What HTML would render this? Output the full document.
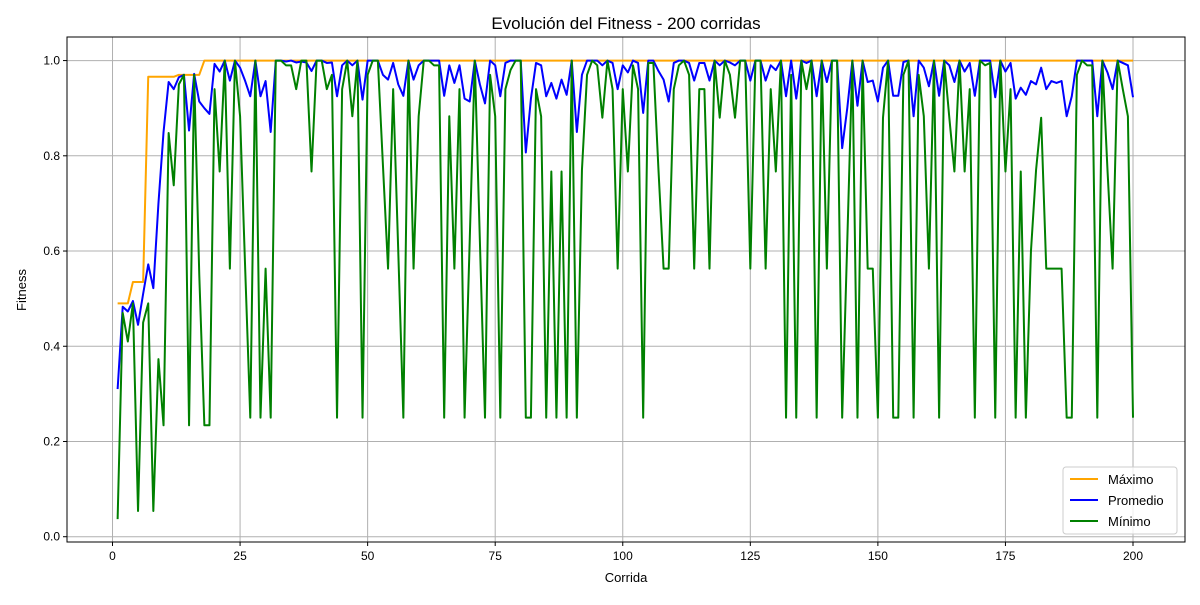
<!DOCTYPE html>
<html><head><meta charset="utf-8"><style>
html,body{margin:0;padding:0;background:#fff;}
svg text{font-family:"Liberation Sans","DejaVu Sans",sans-serif;fill:#000;}
</style></head><body>
<svg id="chart" width="1200" height="600" viewBox="0 0 1200 600" xmlns="http://www.w3.org/2000/svg">
<rect x="0" y="0" width="1200" height="600" fill="#fff"/>
<text x="626" y="29" font-size="17" text-anchor="middle">Evolución del Fitness - 200 corridas</text>
<text x="626" y="582" font-size="13" text-anchor="middle">Corrida</text>
<text x="26" y="290" font-size="13" text-anchor="middle" transform="rotate(-90 26 290)">Fitness</text>
<g id="grid"></g>
<g id="ticks"></g>
<g id="series"></g>
<rect x="67" y="37" width="1118" height="505" fill="none" stroke="#000" stroke-width="1"/>
<g>
<rect x="1063" y="467" width="114" height="67" rx="3" fill="#fff" fill-opacity="0.8" stroke="#ccc"/>
<g><line x1="1070" y1="479" x2="1098" y2="479" stroke="orange" stroke-width="2"/><text x="1108" y="484" font-size="13">Máximo</text></g>
<g><line x1="1070" y1="500" x2="1098" y2="500" stroke="blue" stroke-width="2"/><text x="1108" y="505" font-size="13">Promedio</text></g>
<g><line x1="1070" y1="521" x2="1098" y2="521" stroke="green" stroke-width="2"/><text x="1108" y="526" font-size="13">Mínimo</text></g>
</g>
</svg>
<script>
const maxHead = [0.49,0.49,0.49,0.535,0.535,0.535,0.966,0.966,0.966,0.966,0.966,0.966,0.97,0.97,0.97,0.97,0.97];
const maxTailValue = 1.0;
const avgValues = [
0.31,0.483,0.473,0.495,0.445,0.51,0.572,0.522,0.70,0.85,0.955,0.94,0.965,0.97,0.853,0.972,0.914,0.90,0.888,0.993,
0.977,1.0,0.958,1.0,0.985,0.957,0.925,1.0,0.925,0.957,0.85,1.0,1.0,0.998,1.0,0.996,0.998,0.996,0.978,1.0,
1.0,0.995,0.996,0.925,0.99,1.0,0.99,1.0,0.918,1.0,
1.0,1.0,0.97,0.96,0.995,0.95,0.926,1.0,0.96,0.99,1.0,1.0,1.0,1.0,0.926,0.99,0.953,0.99,0.92,0.914,
1.0,0.95,0.91,1.0,0.99,0.925,0.995,1.0,1.0,1.0,0.807,0.92,0.995,0.99,0.925,0.953,0.92,0.96,0.928,1.0,
0.85,0.97,1.0,1.0,1.0,0.99,1.0,0.995,0.94,0.99,
0.975,1.0,0.995,0.89,1.0,1.0,0.978,0.96,0.914,0.995,1.0,1.0,0.995,0.958,0.995,0.995,0.958,1.0,0.99,1.0,
0.996,0.99,1.0,1.0,0.958,1.0,1.0,0.958,0.99,0.98,1.0,0.925,1.0,0.92,1.0,0.995,1.0,0.925,1.0,0.955,
1.0,1.0,0.816,0.9,1.0,0.905,1.0,0.955,0.958,0.914,
0.985,1.0,0.926,0.926,0.997,1.0,0.883,1.0,0.985,0.946,1.0,0.926,1.0,0.99,0.955,1.0,0.977,0.995,0.926,1.0,
1.0,1.0,0.923,1.0,0.977,0.995,0.92,0.943,0.928,0.957,0.95,0.985,0.94,0.957,0.953,0.957,0.883,0.925,1.0,1.0,
1.0,1.0,0.883,1.0,0.975,0.94,1.0,0.995,0.99,0.923];
const minValues = [
0.037,0.47,0.41,0.49,0.054,0.45,0.49,0.054,0.373,0.234,0.848,0.738,0.95,0.97,0.234,0.97,0.55,0.234,0.234,0.94,
0.767,1.0,0.563,1.0,0.883,0.563,0.25,1.0,0.25,0.563,0.25,1.0,1.0,0.99,0.99,0.94,1.0,1.0,0.767,1.0,
1.0,0.94,0.97,0.25,0.94,1.0,0.883,1.0,0.25,0.97,
1.0,1.0,0.78,0.563,0.94,0.6,0.25,1.0,0.563,0.883,1.0,1.0,0.99,0.99,0.25,0.883,0.563,0.94,0.25,0.62,
1.0,0.62,0.25,0.97,0.883,0.25,0.94,0.98,1.0,1.0,0.25,0.25,0.94,0.883,0.25,0.767,0.25,0.767,0.25,1.0,
0.25,0.77,0.97,1.0,0.99,0.88,1.0,0.94,0.563,0.94,
0.767,0.99,0.94,0.25,0.995,0.995,0.77,0.563,0.563,0.94,0.99,1.0,0.97,0.563,0.94,0.94,0.563,1.0,0.88,1.0,
0.97,0.88,1.0,1.0,0.563,1.0,1.0,0.563,0.94,0.767,1.0,0.25,0.97,0.25,1.0,0.94,1.0,0.25,1.0,0.563,
1.0,1.0,0.25,0.62,1.0,0.25,1.0,0.563,0.563,0.25,
0.88,1.0,0.25,0.25,0.97,1.0,0.25,0.97,0.883,0.563,1.0,0.25,1.0,0.88,0.767,1.0,0.767,0.94,0.25,1.0,
0.99,0.995,0.25,1.0,0.767,0.94,0.25,0.767,0.25,0.6,0.77,0.88,0.563,0.563,0.563,0.563,0.25,0.25,0.97,1.0,
0.99,0.99,0.25,1.0,0.77,0.563,1.0,0.94,0.883,0.25];
const xTicks = [0,25,50,75,100,125,150,175,200];
const yTicks = [0.0,0.2,0.4,0.6,0.8,1.0];
const yTickLabels = ["0.0","0.2","0.4","0.6","0.8","1.0"];

const NS = "http://www.w3.org/2000/svg";
const PL = 67, PR = 1185, PT = 37, PB = 542;
const X0 = -8.92, X1 = 210.19, Y0 = -0.0111, Y1 = 1.0495;
function xs(v){ return PL + (v - X0) / (X1 - X0) * (PR - PL); }
function ys(v){ return PB - (v - Y0) / (Y1 - Y0) * (PB - PT); }
function mk(tag, attrs, parent){ const e = document.createElementNS(NS, tag); for (const k in attrs) e.setAttribute(k, attrs[k]); parent.appendChild(e); return e; }

const grid = document.getElementById('grid');
const ticks = document.getElementById('ticks');
xTicks.forEach(t => {
  const x = xs(t);
  const g = mk('line', {x1:x, x2:x, y1:PT, y2:PB, stroke:'#b0b0b0', 'stroke-width':1}, grid);
  
  
  mk('line', {x1:x, x2:x, y1:PB, y2:PB+4, stroke:'#000', 'stroke-width':1}, ticks);
  const tx = mk('text', {x:x, y:PB+18, 'font-size':12, 'text-anchor':'middle'}, ticks);
  tx.textContent = String(t);
  
  
});
yTicks.forEach((t, i) => {
  const y = ys(t);
  const g = mk('line', {x1:PL, x2:PR, y1:y, y2:y, stroke:'#b0b0b0', 'stroke-width':1}, grid);
  
  
  mk('line', {x1:PL-4, x2:PL, y1:y, y2:y, stroke:'#000', 'stroke-width':1}, ticks);
  const tx = mk('text', {x:PL-7, y:y+4, 'font-size':12, 'text-anchor':'end'}, ticks);
  tx.textContent = yTickLabels[i];
  
  
});

const maxValues = avgValues.map((_, i) => i < maxHead.length ? maxHead[i] : maxTailValue);
const series = document.getElementById('series');
function drawLine(vals, color, name){
  const pts = vals.map((v, i) => xs(i + 1).toFixed(2) + ',' + ys(v).toFixed(2)).join(' ');
  const p = mk('polyline', {points:pts, fill:'none', stroke:color, 'stroke-width':2, 'stroke-linejoin':'round'}, series);
  
  
}
drawLine(maxValues, 'orange', 'line-maximo');
drawLine(avgValues, 'blue', 'line-promedio');
drawLine(minValues, 'green', 'line-minimo');
</script>
</body></html>
